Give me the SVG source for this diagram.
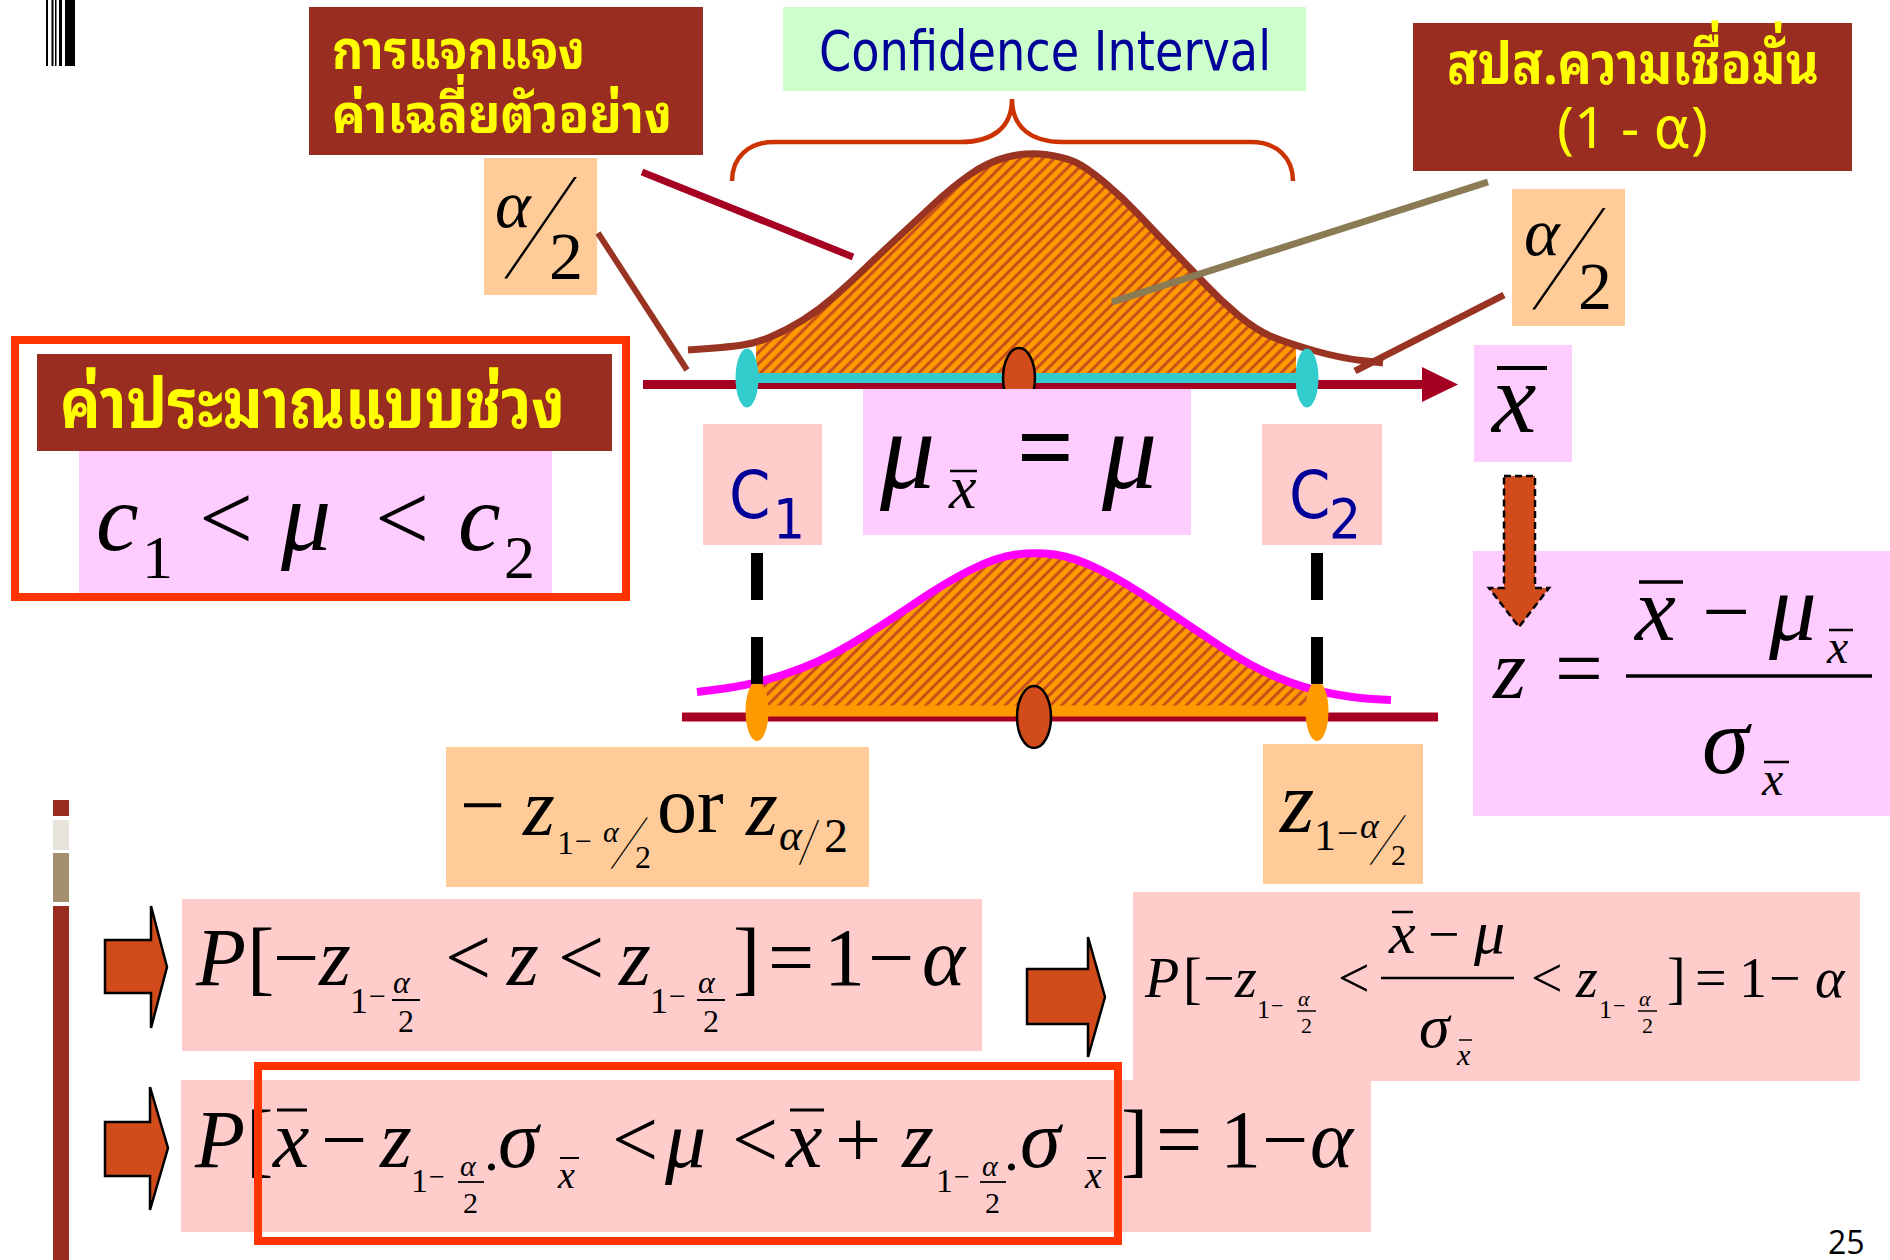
<svg xmlns="http://www.w3.org/2000/svg" width="1890" height="1260" viewBox="0 0 1890 1260">
<style>
.m{font-family:"Liberation Serif","Times New Roman",serif;fill:#000}
.it{font-style:italic}
.th{font-family:Tahoma,"Noto Sans Thai Looped","Noto Sans Thai",Loma,Garuda,"DejaVu Sans",sans-serif;fill:#FFFF00;font-weight:bold}
.reg{font-weight:normal}
.sans{font-family:Tahoma,"DejaVu Sans Condensed","DejaVu Sans",sans-serif}
.brown{fill:#992D22}
.peach{fill:#FFCC99}
.lilac{fill:#FFCCFF}
.pink{fill:#FFCCCC}
.bar{stroke:#000;fill:none}
.ptr{fill:none;stroke-linecap:butt}
.blk{fill:#D24B1A;stroke:#000;stroke-width:2.5}
</style>
<defs>
<pattern id="hatch" patternUnits="userSpaceOnUse" width="8" height="8" patternTransform="rotate(45)">
<rect width="8" height="8" fill="#FF9900"/>
<rect width="3" height="8" fill="#C8501A"/>
</pattern>
<clipPath id="clipTop"><rect x="756" y="100" width="540" height="273"/></clipPath>
<clipPath id="clipBot"><rect x="760" y="500" width="552" height="206"/></clipPath>
</defs>
<rect width="1890" height="1260" fill="#FFFFFF"/>

<!-- decorations -->
<g id="barcode" fill="#000">
<rect x="46" y="0" width="2" height="66"/>
<rect x="51.5" y="0" width="2" height="66"/>
<rect x="55" y="0" width="1.5" height="66"/>
<rect x="59" y="0" width="3" height="66"/>
<rect x="65" y="0" width="10" height="66"/>
</g>
<g id="sidebar">
<rect x="53" y="800" width="16" height="16" fill="#992D22"/>
<rect x="53" y="820" width="16" height="30" fill="#E8E4DC"/>
<rect x="53" y="853" width="16" height="49" fill="#A38F6E"/>
<rect x="53" y="906" width="16" height="354" fill="#992D22"/>
</g>

<!-- upper distribution -->
<g id="upper-curve">
<path d="M688,350 L708.5,348.5 Q729,347 742.5,345 Q756,343 771.5,336.5 Q787,330 803,320 Q819,310 834.5,296.5 Q850,283 865.5,268 Q881,253 899,236.5 Q917,220 934.5,203.5 Q952,187 970,174.5 Q988,162 1007.5,157 Q1027,152 1045.5,154.5 Q1064,157 1075,162 Q1086,167 1104,182 Q1122,197 1137.5,213.5 Q1153,230 1171,248.5 Q1189,267 1204.5,283.5 Q1220,300 1238,315 Q1256,330 1271.5,336.5 Q1287,343 1313.5,350.5 Q1340,358 1361.5,360.5 L1383,363 L1383,373 L688,373 Z" fill="url(#hatch)" clip-path="url(#clipTop)"/>
<line x1="643" y1="384.5" x2="1424" y2="384.5" stroke="#A50021" stroke-width="9"/>
<polygon points="1422,367 1458,384.5 1422,402" fill="#A50021"/>
<line x1="747" y1="378" x2="1307" y2="378" stroke="#33CCCC" stroke-width="10"/>
<path d="M688,350 L708.5,348.5 Q729,347 742.5,345 Q756,343 771.5,336.5 Q787,330 803,320 Q819,310 834.5,296.5 Q850,283 865.5,268 Q881,253 899,236.5 Q917,220 934.5,203.5 Q952,187 970,174.5 Q988,162 1007.5,157 Q1027,152 1045.5,154.5 Q1064,157 1075,162 Q1086,167 1104,182 Q1122,197 1137.5,213.5 Q1153,230 1171,248.5 Q1189,267 1204.5,283.5 Q1220,300 1238,315 Q1256,330 1271.5,336.5 Q1287,343 1313.5,350.5 Q1340,358 1361.5,360.5 L1383,363" fill="none" stroke="#993322" stroke-width="7" stroke-linejoin="round"/>
<ellipse cx="747" cy="378" rx="11.5" ry="29.5" fill="#33CCCC"/>
<ellipse cx="1307" cy="378" rx="11.5" ry="29.5" fill="#33CCCC"/>
<ellipse cx="1019" cy="378" rx="16" ry="30" fill="#D24B1A" stroke="#000" stroke-width="2.5"/>
</g>
<g id="brace">
<path d="M732,181 C732,158 748,142 774,142 L961,142 C992,142 1012,128 1012,99 C1012,128 1032,142 1062,142 L1251,142 C1277,142 1293,158 1293,181" fill="none" stroke="#CC3300" stroke-width="4.5"/>
</g>

<!-- lower distribution -->
<g id="lower-curve">
<line x1="682" y1="717" x2="1438" y2="717" stroke="#A50021" stroke-width="9"/>
<path d="M697,692 L724.5,688.5 Q752,685 785.5,674 Q819,663 849.5,645 Q880,627 913,604.5 Q946,582 971.5,569.5 Q997,557 1016,554.5 Q1035,552 1054.5,554.5 Q1074,557 1099.5,569.5 Q1125,582 1158,604.5 Q1191,627 1221.5,647 Q1252,667 1277.5,677.5 Q1303,688 1328.5,693 Q1354,698 1372.5,699 L1391,700 L1391,706 L697,706 Z" fill="url(#hatch)" clip-path="url(#clipBot)"/>
<line x1="757" y1="711" x2="1317" y2="711" stroke="#FF9900" stroke-width="11"/>
<path d="M697,692 L724.5,688.5 Q752,685 785.5,674 Q819,663 849.5,645 Q880,627 913,604.5 Q946,582 971.5,569.5 Q997,557 1016,554.5 Q1035,552 1054.5,554.5 Q1074,557 1099.5,569.5 Q1125,582 1158,604.5 Q1191,627 1221.5,647 Q1252,667 1277.5,677.5 Q1303,688 1328.5,693 Q1354,698 1372.5,699 L1391,700" fill="none" stroke="#FF00FF" stroke-width="8" stroke-linejoin="round"/>
<ellipse cx="757" cy="711" rx="11.5" ry="30" fill="#FF9900"/>
<ellipse cx="1317" cy="711" rx="11.5" ry="30" fill="#FF9900"/>
<ellipse cx="1034" cy="717" rx="17" ry="31" fill="#D24B1A" stroke="#000" stroke-width="2.5"/>
</g>

<!-- nodes -->
<g id="node-sampling-dist">
<rect x="309" y="7" width="394" height="148" class="brown"/>
<text class="th" font-size="53"><tspan x="332" y="69" textLength="253" lengthAdjust="spacingAndGlyphs">การแจกแจง</tspan><tspan x="332" y="133" textLength="340" lengthAdjust="spacingAndGlyphs">ค่าเฉลี่ยตัวอย่าง</tspan></text>
</g>
<g id="node-confidence-interval">
<rect x="783" y="7" width="523" height="84" fill="#CCFFCC"/>
<text class="sans" font-size="55" fill="#000099" x="819" y="70" textLength="452" lengthAdjust="spacingAndGlyphs">Confidence Interval</text>
</g>
<g id="node-confidence-level">
<rect x="1413" y="23" width="439" height="148" class="brown"/>
<text class="th" font-size="57"><tspan x="1447" y="84" textLength="372" lengthAdjust="spacingAndGlyphs">สปส.ความเชื่อมั่น</tspan><tspan class="reg" x="1557" y="148" textLength="151" lengthAdjust="spacingAndGlyphs">(1 - α)</tspan></text>
</g>
<g id="node-alpha-half-left">
<rect x="484" y="158" width="113" height="137" class="peach"/>
<text class="m it" font-size="68" x="495" y="227">α</text>
<text class="m" font-size="60" transform="translate(505,276.7) skewX(-28.9) scale(1,2.53)">/</text>
<text class="m" font-size="68" x="549" y="279">2</text>
</g>
<g id="node-alpha-half-right">
<rect x="1512" y="189" width="113" height="137" class="peach"/>
<text class="m it" font-size="68" x="1524" y="255">α</text>
<text class="m" font-size="60" transform="translate(1533,307.7) skewX(-29.2) scale(1,2.53)">/</text>
<text class="m" font-size="68" x="1578" y="309">2</text>
</g>
<g id="node-xbar">
<rect x="1474" y="345" width="98" height="117" class="lilac"/>
<line class="bar" x1="1497" y1="368" x2="1547" y2="368" stroke-width="4"/>
<text class="m it" font-size="100" x="1492" y="432">x</text>
</g>
<g id="node-interval-estimate">
<rect x="15" y="340" width="611" height="257" fill="none" stroke="#FF3300" stroke-width="8"/>
<rect x="37" y="354" width="575" height="97" class="brown"/>
<text class="th" font-size="69" x="60" y="428" textLength="505" lengthAdjust="spacingAndGlyphs">ค่าประมาณแบบช่วง</text>
<rect x="79" y="451" width="473" height="142" class="lilac"/>
<text class="m" font-size="96"><tspan class="it" x="96" y="550">c</tspan><tspan x="142" y="578" font-size="62">1</tspan><tspan x="199" y="550">&lt;</tspan><tspan class="it" x="281" y="550" font-size="100">μ</tspan><tspan x="375" y="550">&lt;</tspan><tspan class="it" x="458" y="550">c</tspan><tspan x="504" y="578" font-size="62">2</tspan></text>
</g>
<g id="node-c1">
<rect x="703" y="424" width="119" height="121" class="pink"/>
<text class="sans" fill="#000099"><tspan x="729" y="518" font-size="66">C</tspan><tspan x="773" y="538" font-size="56">1</tspan></text>
</g>
<g id="node-mean">
<rect x="863" y="389" width="328" height="146" class="lilac"/>
<text class="m" font-size="110"><tspan class="it" x="880" y="488">μ</tspan><tspan class="it" x="949" y="508" font-size="62">x</tspan><tspan x="1017" y="481" font-size="100" font-weight="bold">=</tspan><tspan class="it" x="1102" y="488">μ</tspan></text>
<line class="bar" x1="950" y1="471" x2="977" y2="471" stroke-width="2.5"/>
</g>
<g id="node-c2">
<rect x="1262" y="424" width="120" height="121" class="pink"/>
<text class="sans" fill="#000099"><tspan x="1289" y="518" font-size="66">C</tspan><tspan x="1329" y="538" font-size="56">2</tspan></text>
</g>
<g id="node-z-formula">
<rect x="1473" y="551" width="417" height="265" class="lilac"/>
<text class="m" font-size="85"><tspan class="it" x="1493" y="698">z</tspan><tspan x="1555" y="697">=</tspan><tspan class="it" x="1635" y="640" font-size="92">x</tspan><tspan x="1702" y="640">−</tspan><tspan class="it" x="1769" y="640" font-size="95">μ</tspan><tspan class="it" x="1827" y="663" font-size="48">x</tspan><tspan class="it" x="1702" y="773" font-size="95">σ</tspan><tspan class="it" x="1762" y="795" font-size="48">x</tspan></text>
<line class="bar" x1="1639" y1="582" x2="1683" y2="582" stroke-width="3.5"/>
<line class="bar" x1="1829" y1="630" x2="1853" y2="630" stroke-width="2.5"/>
<line class="bar" x1="1626" y1="676" x2="1872" y2="676" stroke-width="3.5"/>
<line class="bar" x1="1764" y1="762" x2="1789" y2="762" stroke-width="2.5"/>
</g>
<g id="node-neg-z">
<rect x="446" y="747" width="423" height="140" class="peach"/>
<text class="m" font-size="80"><tspan x="460" y="832">−</tspan><tspan class="it" x="523" y="835" font-size="82">z</tspan><tspan x="557" y="854" font-size="34">1</tspan><tspan x="575" y="851" font-size="30">−</tspan><tspan class="it" x="603" y="842" font-size="30">α</tspan><tspan x="635" y="868" font-size="32">2</tspan><tspan x="657" y="832">or</tspan><tspan class="it" x="746" y="835" font-size="82">z</tspan><tspan class="it" x="779" y="850" font-size="44">α</tspan><tspan x="824" y="852" font-size="48">2</tspan></text>
<text class="m" font-size="30" transform="translate(611,867.9) skewX(-29.5) scale(1,2.55)">/</text>
<text class="m" font-size="30" transform="translate(799,864) skewX(-15) scale(1,2.22)">/</text>
</g>
<g id="node-pos-z">
<rect x="1263" y="744" width="160" height="140" class="peach"/>
<text class="m" font-size="88"><tspan class="it" x="1280" y="832">z</tspan><tspan x="1314" y="850" font-size="44">1</tspan><tspan x="1337" y="846" font-size="38">−</tspan><tspan class="it" x="1360" y="838" font-size="36">α</tspan><tspan x="1391" y="865" font-size="30">2</tspan></text>
<text class="m" font-size="30" transform="translate(1370,864) skewX(-29.6) scale(1,2.46)">/</text>
</g>
<g id="node-prob-z">
<rect x="182" y="899" width="800" height="152" class="pink"/>
<text class="m" font-size="82"><tspan class="it" x="196" y="985">P</tspan><tspan x="247" y="985">[</tspan><tspan x="273" y="985">−</tspan><tspan class="it" x="319" y="985">z</tspan><tspan x="350" y="1013" font-size="36">1</tspan><tspan x="369" y="1006" font-size="30">−</tspan><tspan class="it" x="393" y="993" font-size="32">α</tspan><tspan x="398" y="1032" font-size="32">2</tspan><tspan x="445" y="985">&lt;</tspan><tspan class="it" x="507" y="985">z</tspan><tspan x="558" y="985">&lt;</tspan><tspan class="it" x="619" y="985">z</tspan><tspan x="650" y="1013" font-size="36">1</tspan><tspan x="669" y="1006" font-size="30">−</tspan><tspan class="it" x="698" y="993" font-size="32">α</tspan><tspan x="703" y="1032" font-size="32">2</tspan><tspan x="733" y="985">]</tspan><tspan x="768" y="985">=</tspan><tspan x="824" y="985">1</tspan><tspan x="868" y="985">−</tspan><tspan class="it" x="922" y="985">α</tspan></text>
<line class="bar" x1="392" y1="1000" x2="420" y2="1000" stroke-width="2"/>
<line class="bar" x1="697" y1="1000" x2="725" y2="1000" stroke-width="2"/>
</g>
<g id="node-prob-standardised">
<rect x="1133" y="892" width="727" height="189" class="pink"/>
<text class="m" font-size="56"><tspan class="it" x="1145" y="997">P</tspan><tspan x="1183" y="997">[</tspan><tspan x="1203" y="997">−</tspan><tspan class="it" x="1235" y="997">z</tspan><tspan x="1257" y="1018" font-size="26">1</tspan><tspan x="1271" y="1013" font-size="22">−</tspan><tspan class="it" x="1298" y="1006" font-size="22">α</tspan><tspan x="1301" y="1033" font-size="22">2</tspan><tspan x="1338" y="997">&lt;</tspan><tspan class="it" x="1389" y="953" font-size="60">x</tspan><tspan x="1428" y="953">−</tspan><tspan class="it" x="1474" y="953" font-size="62">μ</tspan><tspan class="it" x="1419" y="1047" font-size="62">σ</tspan><tspan class="it" x="1457" y="1065" font-size="30">x</tspan><tspan x="1531" y="997">&lt;</tspan><tspan class="it" x="1576" y="997">z</tspan><tspan x="1599" y="1018" font-size="26">1</tspan><tspan x="1613" y="1013" font-size="22">−</tspan><tspan class="it" x="1639" y="1006" font-size="22">α</tspan><tspan x="1642" y="1033" font-size="22">2</tspan><tspan x="1667" y="997">]</tspan><tspan x="1695" y="997">=</tspan><tspan x="1739" y="997">1</tspan><tspan x="1769" y="997">−</tspan><tspan class="it" x="1815" y="997">α</tspan></text>
<line class="bar" x1="1297" y1="1011" x2="1316" y2="1011" stroke-width="1.5"/>
<line class="bar" x1="1638" y1="1011" x2="1657" y2="1011" stroke-width="1.5"/>
<line class="bar" x1="1392" y1="912" x2="1413" y2="912" stroke-width="2.5"/>
<line class="bar" x1="1381" y1="978" x2="1514" y2="978" stroke-width="2.5"/>
<line class="bar" x1="1459" y1="1040" x2="1472" y2="1040" stroke-width="1.5"/>
</g>
<g id="node-prob-interval">
<rect x="181" y="1080" width="1190" height="152" class="pink"/>
<text class="m" font-size="82"><tspan class="it" x="195" y="1167">P</tspan><tspan x="246" y="1167">[</tspan><tspan class="it" x="273" y="1167">x</tspan><tspan x="321" y="1167">−</tspan><tspan class="it" x="380" y="1167">z</tspan><tspan x="411" y="1192" font-size="34">1</tspan><tspan x="429" y="1186" font-size="28">−</tspan><tspan class="it" x="460" y="1176" font-size="30">α</tspan><tspan x="463" y="1213" font-size="30">2</tspan><tspan x="484" y="1170" font-size="60">.</tspan><tspan class="it" x="498" y="1167">σ</tspan><tspan class="it" x="558" y="1188" font-size="38">x</tspan><tspan x="612" y="1167">&lt;</tspan><tspan class="it" x="665" y="1167">μ</tspan><tspan x="732" y="1167">&lt;</tspan><tspan class="it" x="786" y="1167">x</tspan><tspan x="835" y="1167">+</tspan><tspan class="it" x="902" y="1167">z</tspan><tspan x="936" y="1192" font-size="34">1</tspan><tspan x="954" y="1186" font-size="28">−</tspan><tspan class="it" x="982" y="1176" font-size="30">α</tspan><tspan x="985" y="1213" font-size="30">2</tspan><tspan x="1004" y="1170" font-size="60">.</tspan><tspan class="it" x="1020" y="1167">σ</tspan><tspan class="it" x="1085" y="1188" font-size="38">x</tspan><tspan x="1121" y="1167">]</tspan><tspan x="1156" y="1167">=</tspan><tspan x="1220" y="1167">1</tspan><tspan x="1262" y="1167">−</tspan><tspan class="it" x="1310" y="1167">α</tspan></text>
<line class="bar" x1="277" y1="1110" x2="307" y2="1110" stroke-width="3"/>
<line class="bar" x1="790" y1="1110" x2="824" y2="1110" stroke-width="3"/>
<line class="bar" x1="458" y1="1182" x2="484" y2="1182" stroke-width="1.8"/>
<line class="bar" x1="980" y1="1182" x2="1006" y2="1182" stroke-width="1.8"/>
<line class="bar" x1="560" y1="1158" x2="579" y2="1158" stroke-width="2"/>
<line class="bar" x1="1087" y1="1158" x2="1106" y2="1158" stroke-width="2"/>
<rect x="258" y="1066" width="860" height="175" fill="none" stroke="#FF3300" stroke-width="8"/>
</g>
<text id="page-number" x="1828" y="1254" font-family="'Open Sans','Liberation Sans',sans-serif" font-size="32" fill="#000">25</text>

<!-- connectors -->
<g id="connectors">
<line class="ptr" x1="642" y1="172" x2="853" y2="257" stroke="#A50021" stroke-width="7"/>
<line class="ptr" x1="598" y1="233" x2="687" y2="370" stroke="#993322" stroke-width="6"/>
<line class="ptr" x1="1488" y1="182" x2="1112" y2="302" stroke="#8B7B55" stroke-width="7"/>
<line class="ptr" x1="1504" y1="295" x2="1355" y2="371" stroke="#993322" stroke-width="7"/>
<line x1="757" y1="553" x2="757" y2="684" stroke="#000" stroke-width="12" stroke-dasharray="47 37"/>
<line x1="1317" y1="553" x2="1317" y2="684" stroke="#000" stroke-width="12" stroke-dasharray="47 37"/>
<polygon points="1504,476 1535,476 1535,588 1549,588 1519,627 1489,588 1504,588" fill="#D24B1A" stroke="#000" stroke-width="2.5" stroke-dasharray="7 4"/>
<polygon class="blk" points="105,940 151,940 151,906 167,967 151,1028 151,993 105,993"/>
<polygon class="blk" points="1027,969 1088,969 1088,937 1105,997 1088,1057 1088,1024 1027,1024"/>
<polygon class="blk" points="105,1122 150,1122 150,1087 168,1148 150,1210 150,1176 105,1176"/>
</g>
</svg>
